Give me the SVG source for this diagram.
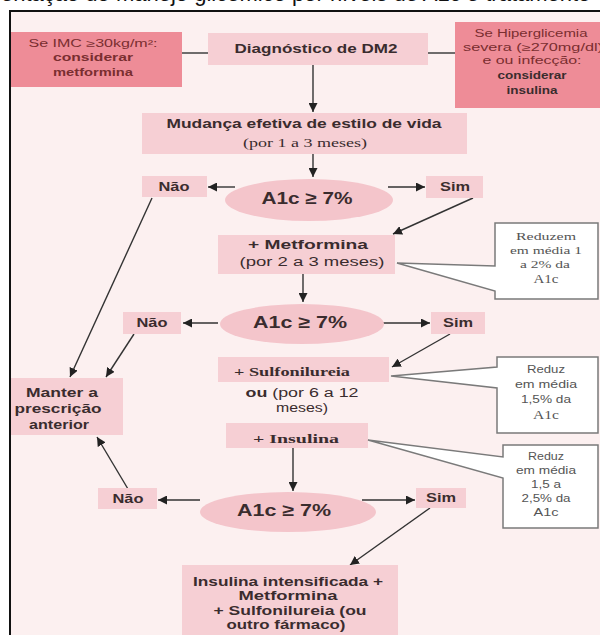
<svg xmlns="http://www.w3.org/2000/svg" width="600" height="635" viewBox="0 0 600 635">
<defs>
<marker id="ah" viewBox="0 0 10 10" refX="10" refY="5" markerWidth="9" markerHeight="9" markerUnits="userSpaceOnUse" orient="auto"><path d="M0,0 L10,5 L0,10 z" fill="#222"/></marker>
<style>
.bx{fill:#f6cfd4}
.dk{fill:#ee8c97}
.el{fill:#f4c5cb}
.co{fill:#ffffff;stroke:#7a7a7a;stroke-width:1.5}
.ln{stroke:#333;stroke-width:1.4;fill:none}
.ar{stroke:#333;stroke-width:1.4;fill:none;marker-end:url(#ah)}
text{font-family:"Liberation Sans",Arial,sans-serif;fill:#3a2c2e;text-anchor:middle}
.b{font-weight:bold}
.s{font-family:"Liberation Serif","Times New Roman",serif}
.r{fill:#7a2e30}
.big{font-size:17px;font-weight:bold}
.m{font-size:12px}
.sm{font-size:10px}
.cs{font-size:11px;fill:#555}
</style>
</defs>
<rect x="0" y="0" width="600" height="635" fill="#ffffff"/>
<text x="-70" y="1" style="font-size:22px;fill:#111;text-anchor:start">Representação do manejo glicêmico por níveis de A1c e tratamento</text>
<rect x="10" y="11" width="600" height="640" fill="#fcf0f0" stroke="#111" stroke-width="2"/>

<g id="connectors">
<line class="ln" x1="182" y1="53" x2="208" y2="53"/>
<line class="ln" x1="428" y1="53" x2="455" y2="53"/>
<line class="ar" x1="313" y1="65" x2="313" y2="112"/>
<line class="ar" x1="313" y1="154" x2="313" y2="177"/>
<line class="ar" x1="235" y1="187" x2="208" y2="187"/>
<line class="ar" x1="388" y1="187" x2="425" y2="187"/>
<line class="ar" x1="152" y1="198" x2="70" y2="377"/>
<line class="ar" x1="473" y1="198" x2="393" y2="234"/>
<line class="ar" x1="303" y1="274" x2="303" y2="302"/>
<line class="ar" x1="218" y1="323" x2="183" y2="323"/>
<line class="ar" x1="381" y1="323" x2="430" y2="323"/>
<line class="ar" x1="134" y1="334" x2="106" y2="377"/>
<line class="ar" x1="450" y1="334" x2="392" y2="367"/>
<line class="ar" x1="293" y1="448" x2="293" y2="491"/>
<line class="ar" x1="200" y1="500" x2="158" y2="500"/>
<line class="ar" x1="362" y1="500" x2="415" y2="500"/>
<line class="ar" x1="128" y1="489" x2="97" y2="437"/>
<line class="ar" x1="430" y1="508" x2="350" y2="565"/>
</g>

<g id="imc">
<rect class="dk" x="11" y="32" width="171" height="55"/>
<text class="r sm" x="93" y="47" textLength="129" lengthAdjust="spacingAndGlyphs">Se IMC ≥30kg/m²:</text>
<text class="r sm b" x="93" y="61" textLength="80" lengthAdjust="spacingAndGlyphs">considerar</text>
<text class="r sm b" x="93" y="76" textLength="80" lengthAdjust="spacingAndGlyphs">metformina</text>
</g>

<g id="diag">
<rect class="bx" x="208" y="33" width="220" height="32"/>
<text class="m b" x="316" y="53" textLength="163" lengthAdjust="spacingAndGlyphs">Diagnóstico de DM2</text>
</g>

<g id="hiper">
<rect class="dk" x="455" y="22" width="145" height="86"/>
<text class="r sm" x="531" y="37" textLength="113" lengthAdjust="spacingAndGlyphs">Se Hiperglicemia</text>
<text class="r sm" x="533" y="51" textLength="140" lengthAdjust="spacingAndGlyphs">severa (≥270mg/dl)</text>
<text class="r sm" x="532" y="64" textLength="99" lengthAdjust="spacingAndGlyphs">e ou infecção:</text>
<text class="sm b" x="532" y="79" textLength="69" lengthAdjust="spacingAndGlyphs">considerar</text>
<text class="sm b" x="532" y="94" textLength="51" lengthAdjust="spacingAndGlyphs">insulina</text>
</g>

<g id="mudanca">
<rect class="bx" x="142" y="113" width="325" height="41"/>
<text class="m b" x="304" y="128" textLength="275" lengthAdjust="spacingAndGlyphs">Mudança efetiva de estilo de vida</text>
<text class="s" x="305" y="147" style="font-size:13px" textLength="124" lengthAdjust="spacingAndGlyphs">(por 1 a 3 meses)</text>
</g>

<g id="a1c1">
<ellipse class="el" cx="309" cy="200" rx="84" ry="21"/>
<text class="big" x="307" y="204" textLength="91" lengthAdjust="spacingAndGlyphs">A1c ≥ 7%</text>
</g>
<g id="nao1">
<rect class="bx" x="142" y="176" width="65" height="21"/>
<text class="m b" x="174" y="191" textLength="31" lengthAdjust="spacingAndGlyphs">Não</text>
</g>
<g id="sim1">
<rect class="bx" x="426" y="176" width="57" height="22"/>
<text class="m b" x="455" y="191" textLength="30" lengthAdjust="spacingAndGlyphs">Sim</text>
</g>

<g id="metformina">
<rect class="bx" x="218" y="235" width="177" height="39"/>
<text class="m b" x="308" y="249" textLength="120" lengthAdjust="spacingAndGlyphs">+ Metformina</text>
<text class="m" x="312" y="266" textLength="145" lengthAdjust="spacingAndGlyphs">(por 2 a 3 meses)</text>
</g>
<g id="callout1">
<path class="co" d="M495,223 H598 V299 H495 V291 L397,263 L495,266 Z"/>
<text class="s cs" x="546" y="240" textLength="60" lengthAdjust="spacingAndGlyphs">Reduzem</text>
<text class="s cs" x="546" y="254" textLength="72" lengthAdjust="spacingAndGlyphs">em média 1</text>
<text class="s cs" x="545" y="268" textLength="50" lengthAdjust="spacingAndGlyphs">a 2% da</text>
<text class="s cs" x="546" y="283" style="font-size:12px" textLength="25" lengthAdjust="spacingAndGlyphs">A1c</text>
</g>

<g id="a1c2">
<ellipse class="el" cx="302" cy="324" rx="82" ry="20"/>
<text class="big" x="300" y="328" textLength="94" lengthAdjust="spacingAndGlyphs">A1c ≥ 7%</text>
</g>
<g id="nao2">
<rect class="bx" x="123" y="312" width="58" height="22"/>
<text class="m b" x="152" y="327" textLength="31" lengthAdjust="spacingAndGlyphs">Não</text>
</g>
<g id="sim2">
<rect class="bx" x="431" y="312" width="54" height="22"/>
<text class="m b" x="458" y="327" textLength="30" lengthAdjust="spacingAndGlyphs">Sim</text>
</g>

<g id="sulfonilureia">
<rect class="bx" x="218" y="357" width="171" height="25"/>
<text class="s b" x="292" y="376" style="font-size:13px" textLength="116" lengthAdjust="spacingAndGlyphs">+ Sulfonilureia</text>
<text class="m" x="302" y="397" textLength="113" lengthAdjust="spacingAndGlyphs"><tspan class="b">ou</tspan> (por 6 a 12</text>
<text class="m" x="302" y="412" textLength="52" lengthAdjust="spacingAndGlyphs">meses)</text>
</g>
<g id="callout2">
<path class="co" d="M497,357 H598 V433 H497 V388 L391,376 L497,367 Z"/>
<text class="cs" x="546" y="373" textLength="38" lengthAdjust="spacingAndGlyphs">Reduz</text>
<text class="cs" x="546" y="388" textLength="62" lengthAdjust="spacingAndGlyphs">em média</text>
<text class="cs" x="546" y="403" textLength="50" lengthAdjust="spacingAndGlyphs">1,5% da</text>
<text class="s cs" x="546" y="419" style="font-size:13px" textLength="26" lengthAdjust="spacingAndGlyphs">A1c</text>
</g>

<g id="manter">
<rect class="bx" x="11" y="378" width="112" height="57"/>
<text class="m b" x="62" y="397" textLength="72" lengthAdjust="spacingAndGlyphs">Manter a</text>
<text class="m b" x="58" y="413" textLength="87" lengthAdjust="spacingAndGlyphs">prescrição</text>
<text class="m b" x="59" y="429" textLength="60" lengthAdjust="spacingAndGlyphs">anterior</text>
</g>

<g id="insulina">
<rect class="bx" x="226" y="423" width="142" height="25"/>
<text class="s b" x="296" y="443" style="font-size:13px" textLength="86" lengthAdjust="spacingAndGlyphs">+ Insulina</text>
</g>
<g id="callout3">
<path class="co" d="M503,445 H598 V528 H503 V478 L368,440 L503,457 Z"/>
<text class="cs" x="546" y="460" textLength="36" lengthAdjust="spacingAndGlyphs">Reduz</text>
<text class="cs" x="546" y="474" textLength="60" lengthAdjust="spacingAndGlyphs">em média</text>
<text class="cs" x="546" y="488" textLength="30" lengthAdjust="spacingAndGlyphs">1,5 a</text>
<text class="cs" x="546" y="502" textLength="49" lengthAdjust="spacingAndGlyphs">2,5% da</text>
<text class="cs" x="546" y="516" textLength="25" lengthAdjust="spacingAndGlyphs">A1c</text>
</g>

<g id="a1c3">
<ellipse class="el" cx="288" cy="512" rx="88" ry="20"/>
<text class="big" x="284" y="516" textLength="94" lengthAdjust="spacingAndGlyphs">A1c ≥ 7%</text>
</g>
<g id="nao3">
<rect class="bx" x="98" y="488" width="59" height="21"/>
<text class="m b" x="128" y="503" textLength="31" lengthAdjust="spacingAndGlyphs">Não</text>
</g>
<g id="sim3">
<rect class="bx" x="416" y="488" width="50" height="20"/>
<text class="m b" x="441" y="502" textLength="30" lengthAdjust="spacingAndGlyphs">Sim</text>
</g>

<g id="final">
<rect class="bx" x="182" y="565" width="216" height="75"/>
<text class="m b" x="288" y="586" textLength="190" lengthAdjust="spacingAndGlyphs">Insulina intensificada +</text>
<text class="m b" x="288" y="600" textLength="99" lengthAdjust="spacingAndGlyphs">Metformina</text>
<text class="m b" x="290" y="615" textLength="153" lengthAdjust="spacingAndGlyphs">+ Sulfonilureia (ou</text>
<text class="m b" x="286" y="629" textLength="119" lengthAdjust="spacingAndGlyphs">outro fármaco)</text>
</g>
</svg>
